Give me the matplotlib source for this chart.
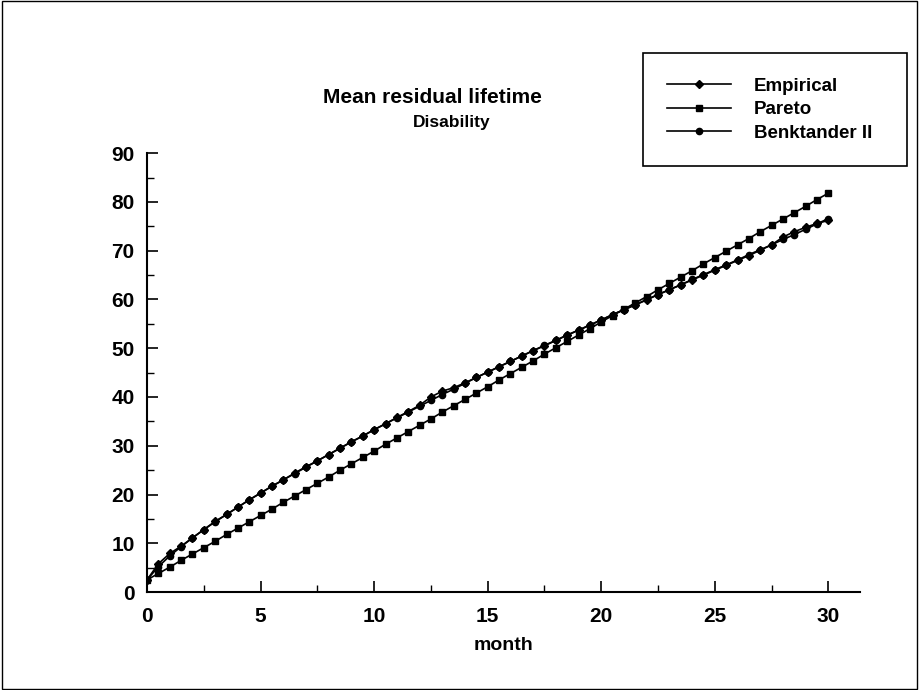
import matplotlib
matplotlib.use('Agg')
import matplotlib.pyplot as plt
from matplotlib.patches import Rectangle
from matplotlib.ticker import MultipleLocator

plt.rcParams['font.family'] = ['Liberation Sans', 'DejaVu Sans']
plt.rcParams['font.weight'] = 'bold'

# Data (month steps of 0.5)
month = [i * 0.5 for i in range(61)]

benktander = [2.5, 5.2, 7.4, 9.3, 11.1, 12.8, 14.4, 15.9, 17.4, 18.9,
              20.3, 21.7, 23.0, 24.3, 25.6, 26.9, 28.2, 29.5, 30.8, 32.0,
              33.3, 34.5, 35.7, 36.9, 38.1, 39.3, 40.5, 41.6, 42.8, 44.0,
              45.1, 46.2, 47.3, 48.4, 49.5, 50.6, 51.6, 52.7, 53.7, 54.8,
              55.8, 56.9, 57.9, 58.9, 60.0, 61.0, 62.0, 63.0, 64.1, 65.1,
              66.1, 67.1, 68.1, 69.2, 70.2, 71.2, 72.3, 73.3, 74.4, 75.5,
              76.6]

empirical = [2.5, 5.8, 7.9, 9.4, 11.1, 12.8, 14.5, 15.9, 17.4, 18.9,
             20.3, 21.7, 23.0, 24.4, 25.7, 26.9, 28.2, 29.5, 30.8, 32.0,
             33.3, 34.5, 35.8, 37.0, 38.3, 40.0, 41.2, 41.9, 42.9, 44.0,
             45.1, 46.2, 47.3, 48.4, 49.5, 50.5, 51.6, 52.7, 53.7, 54.7,
             55.8, 56.9, 57.9, 58.9, 59.9, 61.0, 62.0, 63.0, 64.0, 65.0,
             66.0, 67.0, 68.0, 69.0, 70.1, 71.2, 72.8, 73.9, 74.8, 75.6,
             76.2]

pareto = [2.5, 3.8, 5.1, 6.5, 7.8, 9.1, 10.4, 11.8, 13.1, 14.4,
          15.7, 17.0, 18.4, 19.7, 21.0, 22.3, 23.6, 25.0, 26.3, 27.6,
          28.9, 30.3, 31.6, 32.9, 34.2, 35.5, 36.9, 38.2, 39.5, 40.8,
          42.1, 43.5, 44.8, 46.1, 47.4, 48.8, 50.1, 51.4, 52.7, 54.0,
          55.4, 56.7, 58.0, 59.3, 60.6, 62.0, 63.3, 64.6, 65.9, 67.3,
          68.6, 69.9, 71.2, 72.5, 73.9, 75.2, 76.5, 77.8, 79.1, 80.5,
          81.8]

fig = plt.figure(figsize=(9.19, 6.9), dpi=100)
ax = fig.add_axes([0.16, 0.142, 0.776, 0.636])

ax.plot(month, empirical, '-', color='black', marker='D', markersize=4, linewidth=1.2, label='Empirical')
ax.plot(month, pareto, '-', color='black', marker='s', markersize=4.5, linewidth=1.2, label='Pareto')
ax.plot(month, benktander, '-', color='black', marker='o', markersize=4.5, linewidth=1.2, label='Benktander II')

ax.set_xlim(0, 31.4)
ax.set_ylim(0, 90)
ax.xaxis.set_major_locator(MultipleLocator(5))
ax.xaxis.set_minor_locator(MultipleLocator(2.5))
ax.yaxis.set_major_locator(MultipleLocator(10))
ax.yaxis.set_minor_locator(MultipleLocator(5))
ax.tick_params(which='major', direction='in', length=8, width=1.2, labelsize=15)
ax.tick_params(axis='y', which='major', pad=9)
ax.tick_params(axis='x', which='major', pad=11)
ax.tick_params(which='minor', direction='in', length=5, width=1)
for lab in ax.get_xticklabels() + ax.get_yticklabels():
    lab.set_fontweight('bold')
for s in ['top', 'right']:
    ax.spines[s].set_visible(False)
for s in ['left', 'bottom']:
    ax.spines[s].set_linewidth(1.5)

ax.set_xlabel('month', fontsize=14, fontweight='bold', labelpad=8)

fig.text(0.471, 0.859, 'Mean residual lifetime', ha='center', va='center', fontsize=15, fontweight='bold')
fig.text(0.491, 0.823, 'Disability', ha='center', va='center', fontsize=12.5, fontweight='bold')

leg = fig.legend(loc='upper left', bbox_to_anchor=(0.6997, 0.774, 0.287, 0.149), mode='expand',
                 borderaxespad=0, fancybox=False, edgecolor='black', framealpha=1,
                 handlelength=3.4, prop={'weight': 'bold', 'size': 13.5},
                 labelspacing=0.35, borderpad=1.3, handletextpad=1.2)
leg.get_frame().set_linewidth(1.2)

fig.patches.append(Rectangle((0.002, 0.002), 0.996, 0.996, transform=fig.transFigure,
                             fill=False, edgecolor='black', linewidth=1))

fig.savefig('out.png', dpi=100)
